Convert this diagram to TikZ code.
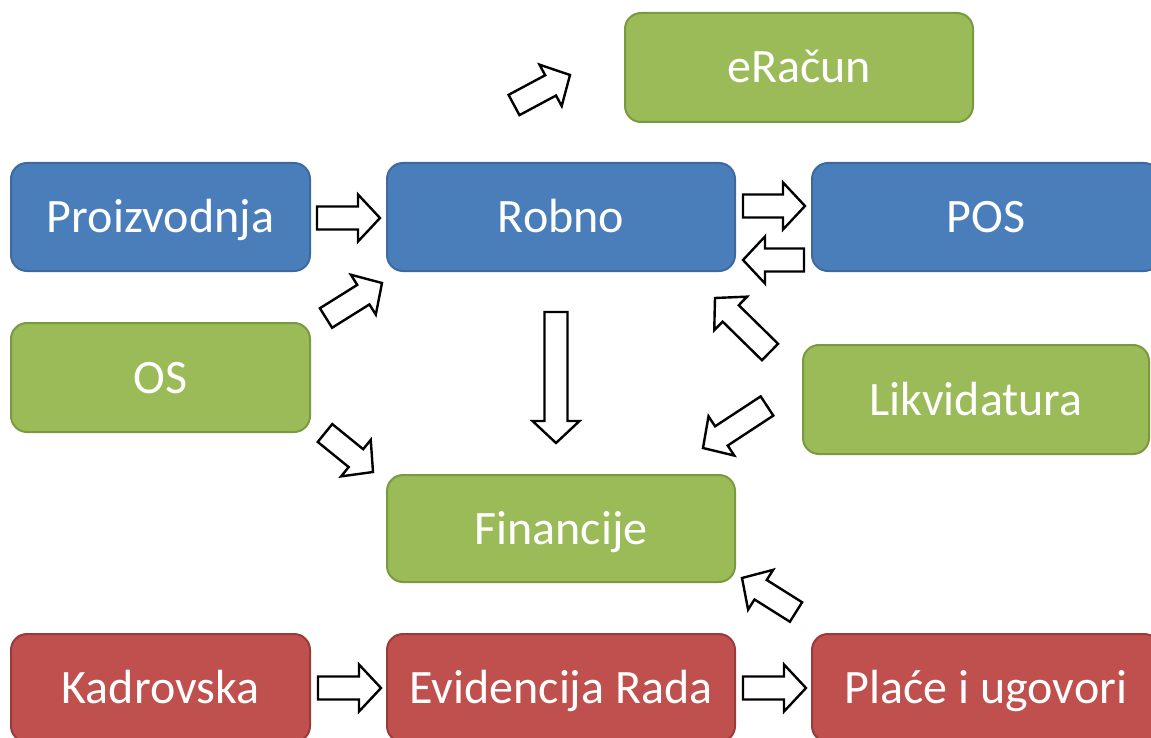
\documentclass[tikz,border=0pt]{standalone}
\usepackage{fontspec}
\setmainfont{Carlito}
\usetikzlibrary{calc}
\definecolor{bfill}{HTML}{4A7EBB}
\definecolor{bdraw}{HTML}{3D6A9E}
\definecolor{gfill}{HTML}{9BBB59}
\definecolor{gdraw}{HTML}{7A9A3F}
\definecolor{rfill}{HTML}{C0504D}
\definecolor{rdraw}{HTML}{9A3B39}
\newcommand\ArSw{11.5pt}
\newcommand\ArHw{23.5pt}
\newcommand\ArHl{22pt}
\newcommand\blkarrow[2]{\draw[blockarrow] ($(#1)!\ArSw!90:(#2)$) -- ($(#2)!\ArHl!(#1)!\ArSw!-90:(#1)$) -- ($(#2)!\ArHl!(#1)!\ArHw!-90:(#1)$) -- (#2) -- ($(#2)!\ArHl!(#1)!\ArHw!90:(#1)$) -- ($(#2)!\ArHl!(#1)!\ArSw!90:(#1)$) -- ($(#1)!\ArSw!-90:(#2)$) -- cycle;}
\tikzset{
  box/.style={rounded corners=16pt, line width=2pt, minimum height=108pt, text=white,
    font=\fontsize{48}{58}\selectfont, inner sep=0pt, text height=31pt, text depth=0pt},
  bbox/.style={box, fill=bfill, draw=bdraw},
  gbox/.style={box, fill=gfill, draw=gdraw},
  rbox/.style={box, fill=rfill, draw=rdraw},
  blockarrow/.style={draw=black, fill=white, line width=2.4pt, line join=miter}
}
\begin{document}
\begin{tikzpicture}[x=1pt,y=-1pt]
\useasboundingbox (0,0) rectangle (1151,738);
\fill[white] (0,0) rectangle (1151,738);
\clip (0,0) rectangle (1151,738);
% boxes
\node[gbox, minimum width=348pt, minimum height=109pt] (eracun) at (799,67.5) {eRačun};
\node[bbox, minimum width=299pt] (proiz) at (160.5,217) {Proizvodnja};
\node[bbox, minimum width=348pt] (robno) at (561,217) {Robno};
\node[bbox, minimum width=348pt] (pos) at (986,217) {POS};
\node[gbox, minimum width=299pt, minimum height=109pt] (os) at (160.5,377.5) {OS};
\node[gbox, minimum width=346pt, minimum height=109pt] (likv) at (976,399.5) {Likvidatura};
\node[gbox, minimum width=348pt, minimum height=107pt] (fin) at (561,528.5) {Financije};
\node[rbox, minimum width=299pt] (kadr) at (160.5,688) {Kadrovska};
\node[rbox, minimum width=348pt] (evid) at (561,688) {Evidencija Rada};
\node[rbox, minimum width=348pt] (place) at (986,688) {Plaće i ugovori};
% arrow end points
\coordinate (a1s) at (317,218);  \coordinate (a1t) at (380,218);
\coordinate (a2s) at (743,206);  \coordinate (a2t) at (805,206);
\coordinate (a3s) at (804,260);  \coordinate (a3t) at (743,260);
\coordinate (a4s) at (326,318);  \coordinate (a4t) at (382,283);
\coordinate (a5s) at (325,433);  \coordinate (a5t) at (373,472);
\coordinate (a6s) at (556,312);  \coordinate (a6t) at (556,443);
\coordinate (a7s) at (770,352);  \coordinate (a7t) at (715,298);
\coordinate (a8s) at (767,406);  \coordinate (a8t) at (703,448);
\coordinate (a9s) at (796,612);  \coordinate (a9t) at (742,578);
\coordinate (a10s) at (318,688); \coordinate (a10t) at (381,688);
\coordinate (a11s) at (743,688); \coordinate (a11t) at (806,688);
\coordinate (a12s) at (514,105); \coordinate (a12t) at (570,75);
% block arrows
\blkarrow{a1s}{a1t}
\blkarrow{a2s}{a2t}
\blkarrow{a3s}{a3t}
\blkarrow{a4s}{a4t}
\blkarrow{a5s}{a5t}
\blkarrow{a6s}{a6t}
\blkarrow{a7s}{a7t}
\blkarrow{a8s}{a8t}
\blkarrow{a9s}{a9t}
\blkarrow{a10s}{a10t}
\blkarrow{a11s}{a11t}
\blkarrow{a12s}{a12t}
\end{tikzpicture}
\end{document}
